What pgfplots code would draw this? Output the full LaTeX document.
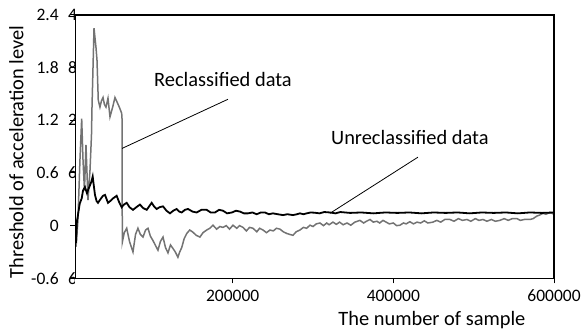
\documentclass[border=0pt]{standalone}
\usepackage{pgfplots}
\pgfplotsset{compat=1.18}
\usepackage{fontspec}
\setmainfont{Carlito}
\definecolor{grayline}{RGB}{115,115,115}
\tikzset{ghost/.style={anchor=east, inner sep=0pt, font=\fontsize{17.5}{20}\selectfont}}
\begin{document}
\begin{tikzpicture}
\useasboundingbox (-75.3pt,-50.7pt) rectangle (506.7pt,278.3pt);
\begin{axis}[
  at={(0,0)}, anchor=south west,
  scale only axis, width=478.7pt, height=263.3pt,
  xmin=4000, xmax=600000, ymin=-0.6, ymax=2.4,
  scaled x ticks=false, scaled y ticks=false,
  xtick={200000,400000,600000}, xticklabels={200000,400000,600000},
  ytick={-0.6,0,0.6,1.2,1.8,2.4}, yticklabels={-0.6,0,0.6,1.2,1.8,2.4},
  xtick pos=bottom, ytick pos=left,
  tick align=outside, major tick length=5pt,
  tick style={black, line width=1pt},
  axis line style={draw=black, line width=1.2pt},
  ticklabel style={font=\fontsize{17.5}{20}\selectfont},
  xticklabel style={yshift=-3pt},
  yticklabel style={xshift=-8pt},
  xlabel={The number of sample},
  ylabel={Threshold of acceleration level},
  label style={font=\fontsize{20.4}{24}\selectfont},
  x label style={at={(axis description cs:0.745,-0.158)}, anchor=center},
  y label style={at={(axis description cs:-0.123,0.48)}, anchor=center, rotate=0},
  clip=false,
]
\addplot[grayline, line width=1.5pt] coordinates {
(4900,-0.24) (7300,0.06) (9800,0.75) (11950,1.22) (13600,0.75) (15400,0.40)
(17300,0.92) (19800,0.29) (22300,0.63) (24150,1.03) (24800,1.35) (27300,2.25)
(29750,2.03) (31000,1.89) (32600,1.43) (34700,1.35) (36500,1.42) (38500,1.46)
(40300,1.38) (42200,1.35) (44700,1.45) (47200,1.24) (50500,1.35) (53400,1.46)
(55900,1.41) (58800,1.35) (61750,1.28) (62300,1.20) (62500,-0.19) (65000,-0.08)
(68000,-0.03) (71500,-0.18) (75800,-0.30) (79000,-0.10) (82000,-0.03) (85000,-0.10)
(88300,-0.13) (91500,-0.05) (94500,-0.03) (97500,-0.12) (100700,-0.17) (103500,-0.22)
(106900,-0.28) (110000,-0.18) (113200,-0.13) (116300,-0.25) (119400,-0.31) (122500,-0.22)
(125600,-0.26) (128500,-0.30) (131800,-0.36) (134000,-0.30) (136500,-0.25) (139500,-0.15)
(142700,-0.09) (146500,-0.05) (150500,-0.075) (154500,-0.11) (159200,-0.13) (163000,-0.08)
(167600,-0.05) (171500,-0.03) (175400,0.005) (180000,-0.04) (184000,-0.01) (187900,-0.02)
(192000,0.0) (196000,-0.04) (200300,0.005) (205000,-0.03) (208500,0.0) (212800,-0.02)
(217000,-0.06) (221000,-0.02) (225200,-0.03) (230000,-0.07) (233500,-0.03) (237700,-0.05)
(242000,-0.08) (246400,-0.05) (250500,-0.06) (254500,-0.03) (258800,-0.04) (263000,-0.07)
(267500,-0.09) (271000,-0.10) (275000,-0.11) (279000,-0.07) (283700,-0.05) (288000,-0.02)
(292000,-0.03) (296200,0.005) (300000,-0.01) (304000,0.02) (308600,0.03) (313000,0.0)
(317000,0.03) (320000,0.01) (324800,0.04) (329000,0.015) (333000,0.04) (337500,0.01)
(342300,0.03) (347000,0.005) (352000,0.04) (358400,0.06) (363000,0.03) (366500,0.05)
(370900,0.07) (375000,0.04) (379500,0.05) (383000,0.03) (387100,0.06) (391000,0.04)
(395000,0.02) (400000,0.03) (404000,0.0) (408200,0.005) (412500,0.03) (416000,0.02)
(420500,0.045) (425000,0.02) (429400,0.04) (434000,0.03) (438500,0.055) (443000,0.03)
(449300,0.04) (454000,0.06) (459000,0.04) (464000,0.07) (470500,0.07) (475500,0.05)
(481000,0.08) (486000,0.06) (491600,0.07) (496500,0.05) (502000,0.08) (506500,0.06)
(511600,0.07) (516500,0.05) (522000,0.07) (527000,0.05) (532700,0.06) (538000,0.08)
(543000,0.06) (548000,0.08) (553900,0.08) (558000,0.06) (563000,0.07) (570100,0.07)
(574000,0.08) (578800,0.11) (582000,0.12) (586300,0.14) (590000,0.13) (595000,0.15)
(600000,0.13)
};
\addplot[black, line width=1.8pt] coordinates {
(4900,-0.20) (6000,0.05) (7300,0.12) (9500,0.25) (11950,0.31) (13600,0.40)
(16000,0.44) (18550,0.37) (20500,0.42) (22300,0.46) (24000,0.50) (25650,0.56)
(28500,0.35) (30500,0.28) (32250,0.26) (36000,0.31) (38500,0.34) (41000,0.35)
(44700,0.26) (47500,0.28) (50900,0.31) (55500,0.34) (58500,0.27) (61750,0.21)
(64500,0.24) (68000,0.26) (71500,0.21) (75800,0.18) (80000,0.21) (84500,0.24)
(88500,0.20) (92900,0.18) (96000,0.22) (99100,0.26) (102000,0.22) (105300,0.19)
(109000,0.21) (113200,0.22) (117500,0.17) (121900,0.14) (126000,0.17) (130200,0.19)
(133500,0.16) (136450,0.15) (140500,0.18) (144300,0.19) (150000,0.16) (155100,0.15)
(161000,0.18) (167600,0.18) (172500,0.15) (177900,0.15) (183000,0.18) (187900,0.17)
(193000,0.14) (199100,0.15) (204000,0.17) (209000,0.16) (214000,0.14) (219000,0.14)
(224500,0.15) (229800,0.13) (235000,0.15) (240200,0.15) (245000,0.13) (250100,0.14)
(256000,0.13) (262600,0.12) (268000,0.13) (275000,0.12) (280000,0.13) (283700,0.14)
(288000,0.13) (292100,0.14) (297000,0.15) (302400,0.147) (308000,0.14) (314000,0.155)
(321100,0.15) (328000,0.14) (334000,0.155) (346000,0.145) (360000,0.15) (375000,0.14)
(390000,0.15) (405000,0.145) (420000,0.15) (435000,0.14) (450000,0.15) (465000,0.145)
(480000,0.15) (495000,0.14) (510000,0.15) (525000,0.145) (540000,0.15) (555000,0.14)
(570000,0.15) (585000,0.145) (600000,0.15)
};
\draw[black, line width=1.2pt] (rel axis cs:0,0) rectangle (rel axis cs:1,1);
\draw[black, line width=0.8pt] (axis cs:62250,0.88) -- (axis cs:194100,1.44);
\draw[black, line width=0.8pt] (axis cs:321000,0.14) -- (axis cs:430600,0.78);
\node[anchor=west, inner sep=0pt, font=\fontsize{20.4}{24}\selectfont] at (axis cs:102000,1.66) {Reclassified data};
\node[anchor=west, inner sep=0pt, font=\fontsize{20.4}{24}\selectfont] at (axis cs:322300,1.0) {Unreclassified data};
\begin{scope}
\clip ([xshift=-7pt]rel axis cs:0,-0.1) rectangle ([xshift=-0.5pt]rel axis cs:0,1.1);
\node[ghost] at ([xshift=2pt]axis cs:4000,2.4) {4};
\node[ghost] at ([xshift=2pt]axis cs:4000,1.8) {8};
\node[ghost] at ([xshift=2pt]axis cs:4000,1.2) {2};
\node[ghost] at ([xshift=2pt]axis cs:4000,0.6) {6};
\node[ghost] at ([xshift=2pt]axis cs:4000,-0.6) {6};
\end{scope}
\end{axis}
\end{tikzpicture}
\end{document}
